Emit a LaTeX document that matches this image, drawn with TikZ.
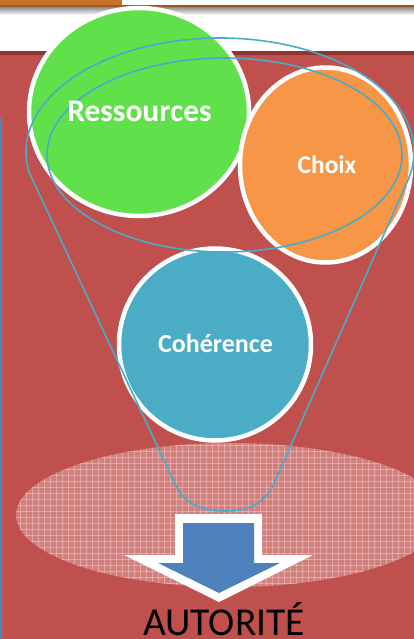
\documentclass[tikz,border=0pt]{standalone}
\usepackage{fontspec}
\setmainfont{Carlito}
\definecolor{ored}{HTML}{C0504D}
\definecolor{darkband}{HTML}{8E3533}
\definecolor{topbar}{HTML}{C8722A}
\definecolor{brownline}{HTML}{9A5A28}
\definecolor{cgreen}{HTML}{60E04A}
\definecolor{corange}{HTML}{F79646}
\definecolor{cteal}{HTML}{4BACC6}
\definecolor{fline}{HTML}{4AAAC8}
\definecolor{cblue}{HTML}{4F81BD}
\tikzset{
  circ/.style={draw=white, line width=4.5pt},
  funnel/.style={draw=fline, line width=1.6pt},
  lbl/.style={text=white, inner sep=0pt, anchor=base},
  gridline/.style={draw=white, opacity=.3, line width=.8pt},
}
\begin{document}
\begin{tikzpicture}[x=1pt,y=-1pt, line join=round]
\useasboundingbox (0,0) rectangle (414,639);
% background
\fill[white] (0,0) rectangle (414,639);
\fill[ored] (0,55) rectangle (414,639);
\fill[darkband] (0,51) rectangle (414,55);
\shade[top color=black!45, bottom color=white] (0,7) rectangle (414,15);
\fill[brownline] (0,5) rectangle (414,7.5);
\fill[topbar] (0,0) rectangle (122,5.5);
\draw[cblue, line width=1.5pt] (1,117) -- (1,639);
% hatched ellipse
\begin{scope}
  \clip (230,515) ellipse [x radius=214, y radius=72];
  \fill[white, opacity=.28] (0,430) rectangle (414,600);
  \foreach \gx in {2,8,...,414} {\draw[gridline] (\gx,440) -- (\gx,590);}
  \foreach \gy in {445,451,...,590} {\draw[gridline] (10,\gy) -- (414,\gy);}
\end{scope}
% circles
\draw[circ, fill=cgreen] (139,112) ellipse [x radius=110, y radius=104];
\draw[circ, fill=corange] (325.5,165) ellipse [x radius=85.5, y radius=97.5];
\draw[circ, fill=cteal] (215,344.5) ellipse [x radius=96, y radius=96];
% funnel
\draw[funnel] (176,486) -- (29,172)
  arc[start angle=169.9, end angle=376.8, x radius=194, y radius=114]
  -- (273,486) .. controls (262,506) and (245,511) .. (225,511)
  .. controls (205,511) and (186,506) .. (176,486) -- cycle;
\draw[funnel] (224.5,155) ellipse [x radius=177.5, y radius=97];
% arrow
\fill[white] (175,514) -- (262,514) -- (262,555) -- (313,555) -- (219,602)
  -- (124,555) -- (175,555) -- cycle;
\fill[cblue] (183,523) -- (254,523) -- (254,563) -- (280,563) -- (219,593)
  -- (158,563) -- (183,563) -- cycle;
% labels
\node[lbl, font=\bfseries\fontsize{31.5}{31.5}\selectfont] (ressources) at (139.5,122) {Ressources};
\node[lbl, font=\bfseries\fontsize{25.5}{25.5}\selectfont] (choix) at (327,173) {Choix};
\node[lbl, font=\bfseries\fontsize{26}{26}\selectfont] (coherence) at (215.5,352) {Cohérence};
\node[inner sep=0pt, anchor=base, font=\fontsize{39.5}{39.5}\selectfont] (autorite) at (224,635) {AUTORITÉ};
\end{tikzpicture}
\end{document}
